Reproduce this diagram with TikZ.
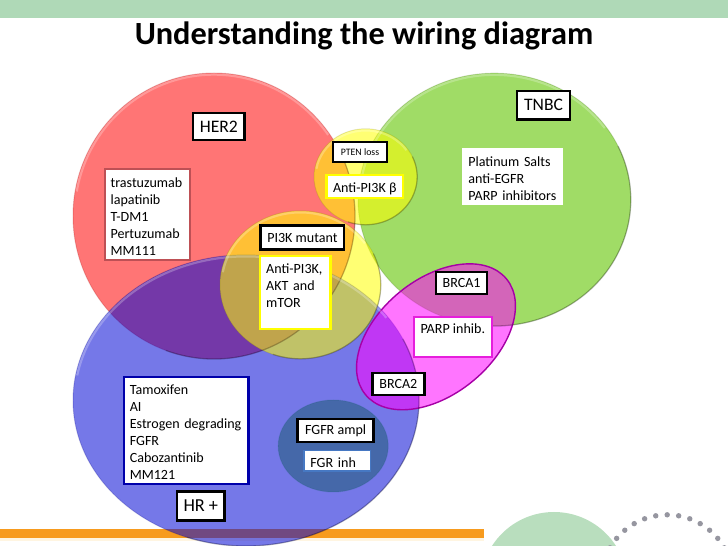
\documentclass[tikz,border=0pt]{standalone}
\usepackage{fontspec}
\setmainfont{Carlito}
\usepackage{tikz}
\usetikzlibrary{shapes,positioning}
\usepackage{xcolor}
\definecolor{wdred}{RGB}{255,0,0}
\definecolor{wdgreen}{RGB}{97,197,0}
\definecolor{wdblue}{RGB}{0,5,212}
\definecolor{wdyellow}{RGB}{255,255,0}
\definecolor{wdmagenta}{RGB}{255,0,255}
\definecolor{wdteal}{RGB}{29,92,117}
\definecolor{wdband}{RGB}{175,217,183}
\definecolor{wdpale}{RGB}{185,222,190}
\definecolor{wdorange}{RGB}{247,155,30}
\definecolor{wdglow}{RGB}{255,245,225}
\definecolor{wddots}{RGB}{150,150,160}
\definecolor{wdrose}{RGB}{190,80,85}
\definecolor{wdnavy}{RGB}{0,0,170}
\definecolor{wdsteel}{RGB}{70,120,195}
\definecolor{wdpink}{RGB}{230,30,220}
\tikzstyle{venn} = [fill opacity=0.54, draw opacity=0.2, line width=0.7pt]
\tikzstyle{label} = [rectangle, draw=black, line width=1.8pt, fill=white, inner sep=0pt, text centered, font=\fontsize{10}{12}\selectfont]
\tikzstyle{drugs} = [rectangle, line width=1.6pt, fill=white, inner sep=0pt, font=\fontsize{10}{12.1}\selectfont, execute at begin node={\rule{0pt}{10pt}}]

\begin{document}
\begin{tikzpicture}
\clip (0,0) rectangle (18.2,13.65);
% Slide decoration
\fill[wdband] (0,13.2) rectangle (18.2,13.65);
\fill[wdglow] (0,0.12) rectangle (12.1,0.2);
\fill[wdorange] (0,0.2) rectangle (12.1,0.42);
\fill[wdpale] (13.85,-0.99) circle (1.84);
\foreach \a in {30,40,...,150}
  \fill[wddots] (16.68,-0.87) ++(\a:1.65) circle (0.068);
\node[font=\fontsize{23}{27}\selectfont\bfseries] at (9.1, 12.74) (title) {Understanding the wiring diagram};

% Large circles
\draw[venn, fill=wdred, draw=wdred!60!black] (5.35,8.25) ellipse (3.525 and 3.575);
\draw[venn, fill=wdgreen, fill opacity=0.6, draw=wdgreen!50!black] (12.36,8.66) ellipse (3.41 and 3.16);
\draw[venn, fill=wdblue, draw=wdblue!60!black] (6.15,3.64) ellipse (4.325 and 3.64);

% Small circles
\draw[venn, fill=wdyellow, fill opacity=0.55, draw=wdyellow!50!black] (7.51,6.53) ellipse (2.01 and 1.85);
\draw[venn, fill=wdyellow, fill opacity=0.55, draw=wdyellow!50!black] (9.14,9.23) ellipse (1.29 and 1.2);
\draw[venn, fill=wdmagenta, draw=wdmagenta!65!black, draw opacity=1, line width=1pt, rotate around={39.3:(10.9,5.23)}] (10.9,5.23) ellipse (2.28 and 1.44);
\draw[venn, fill=wdteal, draw=wdteal] (8.33,2.5) ellipse (1.375 and 1.15);

% Bevel along the rims
\foreach \cx/\cy/\rx/\ry in {5.35/8.25/3.525/3.575, 12.36/8.66/3.41/3.16, 6.15/3.64/4.325/3.64, 7.51/6.53/2.01/1.85, 9.14/9.23/1.29/1.2}
{
  \draw[white, opacity=0.25, line width=1.6pt] ({\cx+(\rx-0.04)*cos(35)},{\cy+(\ry-0.04)*sin(35)}) arc[start angle=35, end angle=170, x radius=\rx-0.04, y radius=\ry-0.04];
  \draw[black, opacity=0.22, line width=0.9pt] ({\cx+\rx*cos(-110)},{\cy+\ry*sin(-110)}) arc[start angle=-110, end angle=25, x radius=\rx, y radius=\ry];
}

% Subtype labels
\node[label, minimum width=1.29cm, minimum height=0.68cm, font=\fontsize{12.5}{15}\selectfont] at (5.47, 10.49) (her2) {HER2};
\node[label, minimum width=1.33cm, minimum height=0.71cm, font=\fontsize{12.5}{15}\selectfont] at (13.59, 11.02) (tnbc) {TNBC};
\node[label, minimum width=1.19cm, minimum height=0.72cm, font=\fontsize{13}{15}\selectfont] at (5.02, 1.0) (hrplus) {HR +};
\node[label, minimum width=1.33cm, minimum height=0.48cm, line width=1.4pt, font=\fontsize{7}{8}\selectfont] at (9.0, 9.85) (ptenloss) {PTEN loss};
\node[label, minimum width=2.09cm, minimum height=0.6cm] at (7.56, 7.71) (pimutant) {PI3K mutant};
\node[label, minimum width=1.28cm, minimum height=0.55cm] at (11.54, 6.58) (brcaone) {BRCA1};
\node[label, minimum width=1.3cm, minimum height=0.55cm] at (9.96, 4.05) (brcatwo) {BRCA2};
\node[label, minimum width=1.9cm, minimum height=0.58cm] at (8.39, 2.89) (fgframpl) {FGFR ampl};

% Drug lists
\node[drugs, draw=wdrose, text width=1.85cm, minimum width=2.13cm, minimum height=2.28cm, align=left] at (3.69, 8.29) (hertx) {trastuzumab\\lapatinib\\T-DM1\\Pertuzumab\\MM111};
\node[drugs, text width=2.2cm, minimum width=2.52cm, minimum height=1.42cm, align=left] at (12.81, 9.24) (tnbctx) {Platinum Salts\\anti-EGFR\\PARP inhibitors};
\node[drugs, draw=wdnavy, text width=2.83cm, minimum width=3.11cm, minimum height=2.67cm, align=left] at (4.66, 2.89) (hrtx) {Tamoxifen\\AI\\Estrogen degrading\\FGFR\\Cabozantinib\\MM121};
\node[drugs, draw=wdyellow, minimum width=1.92cm, minimum height=0.58cm] at (9.12, 8.99) (antibeta) {Anti-PI3K β};
\node[drugs, draw=wdyellow, text width=1.45cm, minimum width=1.76cm, minimum height=1.83cm, align=left] at (7.38, 6.34) (antipi) {Anti-PI3K,\\AKT and\\mTOR\\~};
\node[drugs, draw=wdpink, minimum width=1.95cm, minimum height=1cm, align=center] at (11.32, 5.23) (parp) {PARP inhib.\\~};
\node[drugs, draw=wdsteel, line width=1.2pt, text width=1.34cm, minimum width=1.66cm, minimum height=0.52cm, align=left, execute at begin node={}] at (8.43, 2.13) (fgrinh) {FGR inh};
\end{tikzpicture}
\end{document}
